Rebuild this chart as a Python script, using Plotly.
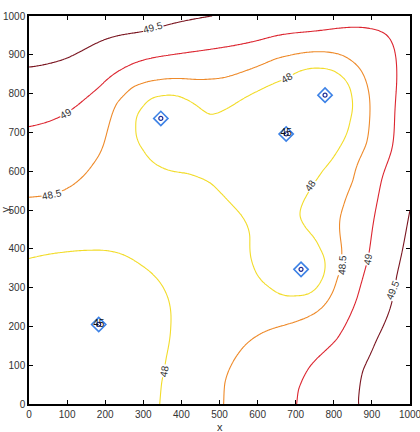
import numpy as np
import plotly.graph_objects as go

# ---- sample sites (blue diamonds) ----
site_x = [346, 675, 777, 714, 183]
site_y = [736, 696, 796, 347, 205]
site_val = [45, 45, 45, 45, 45]
site_label = ["", "45", "", "", "45"]

# ---- contour lines (x, y) per level ----
c48_loop_x = [475, 414, 352, 300, 281, 300, 344, 414, 475, 554, 580, 589, 633, 703, 764, 777, 764, 729, 711,
              742, 772, 816, 843, 847, 816, 764, 676, 606, 528]
c48_loop_y = [745, 784, 794, 766, 715, 655, 612, 595, 571, 491, 433, 356, 300, 280, 313, 356, 399, 450, 485,
              560, 603, 663, 732, 792, 848, 865, 839, 809, 766]
c48_low_x = [0, 99, 160, 213, 291, 344, 370, 372, 361, 348, 343]
c48_low_y = [375, 392, 396, 394, 360, 313, 253, 201, 124, 55, 0]
c485_x = [0, 55, 108, 169, 204, 230, 274, 335, 475, 563, 650, 755, 843, 886, 895, 886, 851, 825, 821, 808,
          764, 694, 598, 545, 514, 511]
c485_y = [533, 539, 560, 620, 698, 775, 818, 835, 838, 857, 891, 908, 887, 827, 758, 672, 577, 509, 399, 321,
          244, 210, 175, 124, 55, 0]
c49_x = [0, 90, 186, 248, 318, 475, 606, 738, 895, 939, 961, 965, 952, 908, 891, 860, 808, 738, 707, 703]
c49_y = [715, 745, 818, 865, 891, 914, 938, 960, 968, 951, 904, 827, 655, 491, 381, 270, 167, 98, 38, 0]
c495_a_x = [0, 99, 186, 300, 379, 480]
c495_a_y = [868, 891, 934, 960, 981, 1000]
c495_b_x = [1000, 965, 913, 877, 864]
c495_b_y = [500, 330, 167, 89, 0]

# ---- estimated values between the lines (edges / bands) ----
band_x = [0, 200, 750, 1000, 1000, 1000, 1000, 950, 0, 100, 0, 780, 600, 430, 0, 0, 0, 0,
          430, 250, 450, 650, 890, 650, 840, 500, 640, 600, 780]
band_y = [1000, 1000, 1000, 1000, 750, 250, 0, 0, 0, 0, 200, 0, 0, 0, 450, 620, 790, 940,
          420, 520, 200, 60, 600, 920, 930, 680, 560, 720, 720]
band_v = [49.8, 49.7, 49.3, 49.25, 49.25, 49.7, 49.8, 49.6, 47.2, 47.3, 47.4, 49.25, 48.75, 48.25,
          48.25, 48.75, 49.25, 49.65, 48.25, 48.25, 48.25, 48.75, 48.75, 48.75, 48.75, 47.4, 47.5, 47.3, 47.3]
site_fit_depth = 47.0

# ---- contour labels as shown in the chart ----
lab_text = ["49.5", "49", "48.5", "48", "48", "48", "48.5", "49", "49.5"]
lab_x = [325, 97, 61, 678, 739, 354, 821, 889, 956]
lab_y = [970, 749, 539, 842, 562, 85, 358, 373, 294]
lab_angle = [-15, -30, -12, -30, -55, -80, -87, -80, -68]

levels = [48, 48, 48.5, 49, 49.5, 49.5]
lines = [(c48_loop_x, c48_loop_y), (c48_low_x, c48_low_y), (c485_x, c485_y), (c49_x, c49_y),
         (c495_a_x, c495_a_y), (c495_b_x, c495_b_y)]

px, py, pv = [], [], []
for lv, (lx, ly) in zip(levels, lines):
    px += lx; py += ly; pv += [lv] * len(lx)
px += band_x; py += band_y; pv += band_v
px += site_x; py += site_y; pv += [site_fit_depth] * len(site_x)
P = np.column_stack([px, py]) / 1000.0
v = np.array(pv, float)

def tps(r):
    with np.errstate(divide="ignore", invalid="ignore"):
        out = r * r * np.log(r)
    return np.nan_to_num(out)

n = len(P)
D = np.linalg.norm(P[:, None, :] - P[None, :, :], axis=2)
K = tps(D) + 3e-4 * np.eye(n)
Q = np.column_stack([np.ones(n), P])
A = np.block([[K, Q], [Q.T, np.zeros((3, 3))]])
sol = np.linalg.solve(A, np.concatenate([v, np.zeros(3)]))
w, a = sol[:n], sol[n:]

gx = np.linspace(0, 1000, 201)
gy = np.linspace(0, 1000, 201)
GX, GY = np.meshgrid(gx, gy)
G = np.column_stack([GX.ravel(), GY.ravel()]) / 1000.0
DG = np.linalg.norm(G[:, None, :] - P[None, :, :], axis=2)
Z = (tps(DG) @ w + a[0] + a[1] * G[:, 0] + a[2] * G[:, 1]).reshape(GX.shape)

FONT = "Liberation Sans"
fig = go.Figure()
fig.add_trace(go.Contour(
    x=gx, y=gy, z=Z, zmin=48, zmax=49.5, zauto=False, showscale=False,
    colorscale=[[0, "#f2dc2a"], [0.333, "#ee8a2a"], [0.667, "#dc2630"], [1, "#7a1520"]],
    contours=dict(start=48, end=49.5, size=0.5, coloring="lines", showlabels=False),
    line=dict(width=1.1), hoverinfo="skip"))
fig.add_trace(go.Scatter(x=site_x, y=site_y, mode="markers",
                         marker=dict(symbol="diamond-open", size=11, color="#3d82e6", line=dict(width=1.6))))
fig.add_trace(go.Scatter(x=site_x, y=site_y, mode="markers",
                         marker=dict(symbol="circle-open", size=4, color="#1b2a96", line=dict(width=1.2))))
fig.add_trace(go.Scatter(x=site_x, y=site_y, mode="text", text=site_label, textposition="middle center",
                         textfont=dict(size=10, color="#111111", family=FONT)))

annots = [dict(text=t, x=x, y=y, xref="x", yref="y", textangle=ang, showarrow=False,
               bgcolor="white", borderpad=0, font=dict(size=10, color="#333333", family=FONT))
          for t, x, y, ang in zip(lab_text, lab_x, lab_y, lab_angle)]
annots += [
    dict(text="x", xref="paper", yref="paper", x=0.5, y=-0.058, xanchor="center", yanchor="middle",
         showarrow=False, font=dict(size=11, color="#333333", family=FONT)),
    dict(text="y", xref="paper", yref="paper", x=-0.064, y=0.5, xanchor="center", yanchor="middle",
         textangle=-90, showarrow=False, font=dict(size=11, color="#333333", family=FONT)),
]

ax = dict(range=[0, 1000], dtick=100, ticks="inside", ticklen=4, tickcolor="black", showline=True,
          linecolor="black", linewidth=1.5, mirror="ticks", showgrid=False, zeroline=False,
          automargin=False, ticklabeloverflow="allow",
          tickfont=dict(size=10, color="#333333", family=FONT))
fig.update_layout(
    width=420, height=432, margin=dict(l=29, r=10, t=16, b=28),
    paper_bgcolor="white", plot_bgcolor="white", showlegend=False,
    xaxis=dict(ax), yaxis=dict(ax),
    annotations=annots,
)
fig.write_html("out.html")
